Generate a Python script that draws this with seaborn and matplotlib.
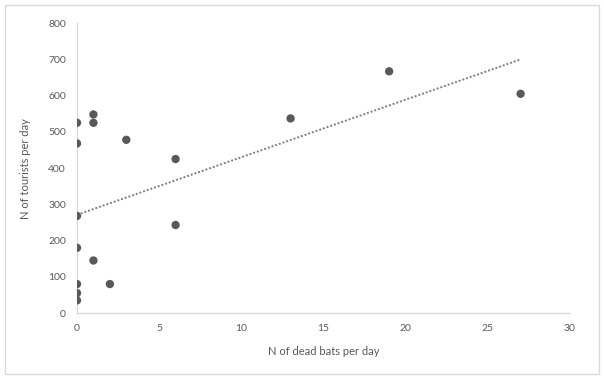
import numpy as np
import pandas as pd
import matplotlib
matplotlib.use("Agg")
import matplotlib.pyplot as plt
import seaborn as sb
from matplotlib.patches import Rectangle

# dead bats per day vs tourists per day
dead_bats = [0, 0, 0, 0, 0, 0, 0, 1, 1, 1, 2, 3, 6, 6, 13, 19, 27]
tourists = [525, 468, 268, 180, 80, 55, 35, 548, 525, 145, 80, 478, 425, 243, 537, 667, 605]
x_ticks = [0, 5, 10, 15, 20, 25, 30]
y_ticks = [0, 100, 200, 300, 400, 500, 600, 700, 800]

df = pd.DataFrame({"bats": dead_bats, "tourists": tourists})

sb.set_theme(style="white")
plt.rcParams["font.family"] = ["Lato", "DejaVu Sans"]

fig = plt.figure(figsize=(6.04, 3.79), dpi=100)
ax = fig.add_axes([0.1275, 0.174, 0.816, 0.765])

fig.patches.append(Rectangle((0.008, 0.012), 0.984, 0.976, transform=fig.transFigure,
                             fill=False, edgecolor="#d9d9d9", linewidth=1))

sb.scatterplot(data=df, x="bats", y="tourists", ax=ax, color="#595959",
               s=36, edgecolor="none", zorder=3)

# linear trendline over the data range
slope, intercept = np.polyfit(df["bats"], df["tourists"], 1)
xs = np.array([df["bats"].min(), df["bats"].max()])
ax.plot(xs, intercept + slope * xs, color="#7f7f7f", linestyle=(0, (1, 1)), linewidth=1.4)

ax.set_xlim(0, 30)
ax.set_ylim(0, 800)
ax.set_xticks(x_ticks)
ax.set_yticks(y_ticks)
ax.tick_params(axis="both", labelsize=7.5, colors="#595959", length=0, pad=8)
ax.set_xlabel("N of dead bats per day", fontsize=8, color="#595959", labelpad=9)
ax.set_ylabel("N of tourists per day", fontsize=8, color="#595959", labelpad=12)

for side in ["top", "right"]:
    ax.spines[side].set_visible(False)
for side in ["left", "bottom"]:
    ax.spines[side].set_color("#d9d9d9")
    ax.spines[side].set_linewidth(1)

fig.savefig("out.png", dpi=100)
